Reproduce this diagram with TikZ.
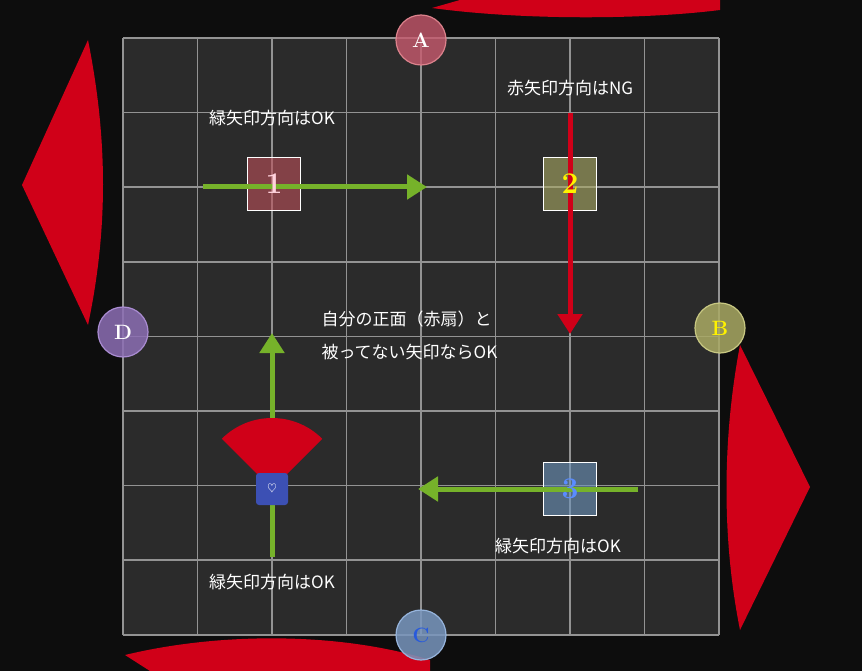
\documentclass[tikz,border=0pt]{standalone}
\usepackage{fontspec}
\usetikzlibrary{arrows.meta}
\newfontfamily\jp{Noto Sans CJK JP}
\begin{document}
\begin{tikzpicture}[x=1pt,y=-1pt,
  lbl/.style={text=white,font=\jp\fontsize{17}{33}\selectfont},
  garrow/.style={draw={rgb,255:red,118;green,178;blue,42},line width=5pt,-{Triangle[length=20pt,width=24pt]}},
  tile/.style={minimum size=53pt,draw=white!50,line width=0.6pt,fill opacity=0.6},
  num/.style={font=\fontsize{30}{30}\selectfont\bfseries},
  wmark/.style={circle,minimum size=50pt,line width=1.2pt,font=\huge\bfseries,text=white}]
\definecolor{fan}{RGB}{208,0,24}
\fill[black!95] (0,0) rectangle (862,671);
\useasboundingbox (0,0) rectangle (862,671);
\fill[fan] (432,8) .. controls (520,20) and (640,20) .. (720,10) -- (720,0) -- (460,0) -- cycle;
\fill[fan] (88,40) -- (22,185) -- (88,325) .. controls (108,230) and (108,140) .. (88,40);
\fill[fan] (740,345) -- (810,487) -- (740,630) .. controls (722,540) and (722,440) .. (740,345);
\fill[fan] (125,655) .. controls (220,632) and (340,632) .. (430,660) -- (430,671) -- (150,671) -- cycle;
\fill[black!83] (123,38) rectangle (719,635);
\foreach \i in {0,...,8}{
  \draw[gray!85,line width=1.6pt] (123+74.5*\i,38) -- (123+74.5*\i,635);
  \draw[gray!85,line width=1.6pt] (123,38+74.6*\i) -- (719,38+74.6*\i);}
\node[tile,fill={rgb,255:red,190;green,80;blue,90}] (t1) at (274,184) {};
\node[tile,fill={rgb,255:red,170;green,170;blue,100}] (t2) at (570,184) {};
\node[tile,fill={rgb,255:red,110;green,150;blue,190}] (t3) at (570,489) {};
\coordinate (a1s) at (203,187); \coordinate (a1e) at (427,187);
\coordinate (a2s) at (570,113); \coordinate (a2e) at (570,334);
\coordinate (a3s) at (638,489); \coordinate (a3e) at (418,489);
\coordinate (a4s) at (272,557); \coordinate (a4e) at (272,333);
\draw[garrow] (a1s) -- (a1e);
\draw[garrow,draw=fan] (a2s) -- (a2e);
\draw[garrow] (a3s) -- (a3e);
\draw[garrow] (a4s) -- (a4e);
\fill[fan] (272,489) -- ++(-135:71) arc[start angle=-135,end angle=-45,radius=71] -- cycle;
\node[num,text={rgb,255:red,255;green,210;blue,220}] at (t1) {1};
\node[num,text=yellow] at (t2) {2};
\node[num,text={rgb,255:red,90;green,140;blue,255}] at (t3) {3};
\node[fill={rgb,255:red,60;green,80;blue,180},rounded corners=3pt,minimum size=32pt,text=white,font=\large] (sh) at (272,489) {$\heartsuit$};
\node[wmark,fill={rgb,255:red,200;green,90;blue,110},fill opacity=0.8,text opacity=1,draw={rgb,255:red,220;green,130;blue,140}] (A) at (421,40) {A};
\node[wmark,fill={rgb,255:red,140;green,110;blue,180},fill opacity=0.85,text opacity=1,draw={rgb,255:red,170;green,140;blue,210}] (D) at (123,332) {D};
\node[wmark,fill={rgb,255:red,170;green,170;blue,100},fill opacity=0.85,text opacity=1,text=yellow,draw={rgb,255:red,200;green,200;blue,130}] (B) at (720,328) {B};
\node[wmark,fill={rgb,255:red,120;green,150;blue,190},fill opacity=0.85,text opacity=1,text={rgb,255:red,40;green,90;blue,220},draw={rgb,255:red,150;green,180;blue,220}] (C) at (421,635) {C};
\node[lbl] (l1) at (272,118) {緑矢印方向はOK};
\node[lbl] (l2) at (570,88) {赤矢印方向はNG};
\node[lbl,anchor=west,align=left] (l3) at (318,335) {自分の正面（赤扇）と\\被ってない矢印ならOK};
\node[lbl] (l4) at (558,546) {緑矢印方向はOK};
\node[lbl] (l5) at (272,582) {緑矢印方向はOK};
\end{tikzpicture}
\end{document}
